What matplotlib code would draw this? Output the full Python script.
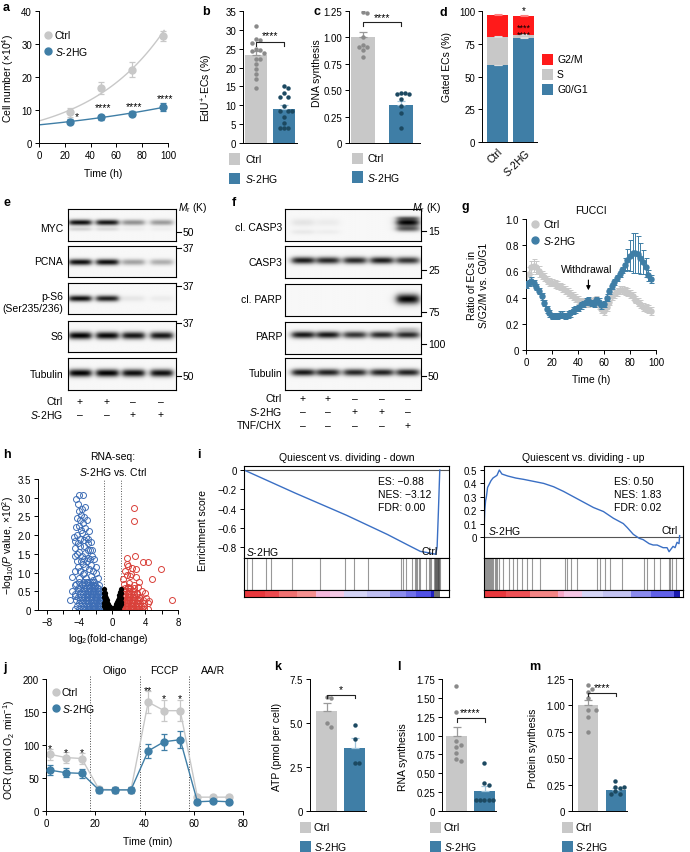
import numpy as np
import matplotlib
matplotlib.use('Agg')
import matplotlib.pyplot as plt
from matplotlib.lines import Line2D
from matplotlib.patches import Rectangle

plt.rcParams['font.family'] = ['Liberation Sans', 'DejaVu Sans']
plt.rcParams['mathtext.fontset'] = 'custom'
plt.rcParams['mathtext.rm'] = 'Liberation Sans'
plt.rcParams['mathtext.it'] = 'Liberation Sans:italic'
plt.rcParams['mathtext.bf'] = 'Liberation Sans:bold'
plt.rcParams['font.size'] = 7
plt.rcParams['axes.linewidth'] = 0.7
plt.rcParams['xtick.major.size'] = 3
plt.rcParams['ytick.major.size'] = 3
plt.rcParams['xtick.major.width'] = 0.7
plt.rcParams['ytick.major.width'] = 0.7
plt.rcParams['xtick.labelsize'] = 7
plt.rcParams['ytick.labelsize'] = 7
plt.rcParams['xtick.major.pad'] = 2
plt.rcParams['ytick.major.pad'] = 2

# ---------------- DATA ----------------
S2 = r'$\it{S}$-2HG'
# a: growth curve
a_time = [24, 48, 72, 96]
a_ctrl = [9.3, 16.8, 22.2, 32.5]
a_ctrl_err = [1.3, 1.8, 2.2, 1.5]
a_s2hg = [6.5, 7.8, 8.9, 10.9]
a_s2hg_err = [0.8, 0.8, 0.8, 1.2]
a_stars = ['*', '****', '****', '****']
a_star_y = [8.3, 10.8, 11.1, 13.6]
# b: EdU+ ECs
b_means = [23.3, 9.1]
b_sems = [1.1, 1.0]
b_ctrl_pts = [31.1, 27.5, 27.3, 26.4, 24.9, 24.7, 24.5, 23.8, 22.4, 22.2, 21.0, 19.6, 18.2, 16.9, 14.5]
b_s2hg_pts = [15.0, 14.5, 13.2, 12.3, 12.3, 9.7, 8.6, 8.6, 8.6, 6.8, 5.3, 3.9, 3.9, 3.9]
# c: DNA synthesis
c_means = [1.0, 0.36]
c_sems = [0.05, 0.04]
c_ctrl_pts = [1.24, 1.23, 1.0, 0.93, 0.91, 0.91, 0.88, 0.81]
c_s2hg_pts = [0.47, 0.47, 0.46, 0.46, 0.42, 0.35, 0.28, 0.14]
# d: cell cycle
d_phases = ['G0/G1', 'S', 'G2/M']
d_ctrl = [58.5, 22.0, 16.5]
d_s2hg = [79.5, 2.5, 14.5]
# e / f: western blot band intensities
e_lanes_ctrl = ['+', '+', '\u2013', '\u2013']
e_lanes_s2hg = ['\u2013', '\u2013', '+', '+']
e_rows = ['MYC', 'PCNA', 'p-S6\n(Ser235/236)', 'S6', 'Tubulin']
e_myc = [0.95, 0.92, 0.42, 0.38]
e_myc_low = [0.15, 0.12, 0.04, 0.04]
e_pcna = [0.95, 0.95, 0.35, 0.3]
e_ps6 = [0.95, 0.88, 0.07, 0.05]
e_s6 = [1.0, 0.98, 0.92, 0.92]
e_tub = [1.0, 1.0, 0.95, 0.95]
e_mw = ['50', '37', '37', '37', '50']
f_rows = ['cl. CASP3', 'CASP3', 'cl. PARP', 'PARP', 'Tubulin']
f_lanes_ctrl = ['+', '+', '\u2013', '\u2013', '\u2013']
f_lanes_s2hg = ['\u2013', '\u2013', '+', '+', '\u2013']
f_lanes_tnf = ['\u2013', '\u2013', '\u2013', '\u2013', '+']
f_clcasp3 = [0.08, 0.05, 0.0, 0.0, 1.0]
f_casp3 = [0.9, 0.85, 0.85, 0.9, 0.8]
f_clparp = [0.0, 0.0, 0.0, 0.0, 1.0]
f_parp = [0.92, 0.92, 0.8, 0.85, 0.85]
f_tub = [0.92, 0.88, 0.86, 0.88, 0.88]
f_mw = ['15', '25', '75', '100', '50']
# g: FUCCI
g_time = list(range(0, 97, 2))
g_ctrl = [0.50, 0.58, 0.63, 0.645, 0.63, 0.60, 0.57, 0.555, 0.535, 0.52, 0.515, 0.505, 0.495,
          0.485, 0.475, 0.46, 0.445, 0.43, 0.415, 0.395, 0.38, 0.37, 0.36, 0.355, 0.36, 0.37,
          0.375, 0.38, 0.34, 0.31, 0.30, 0.33, 0.37, 0.41, 0.43, 0.44, 0.455, 0.455, 0.45, 0.44,
          0.43, 0.41, 0.385, 0.365, 0.35, 0.33, 0.32, 0.31, 0.30]
g_ctrl_err = [0.03, 0.05, 0.05, 0.05, 0.05, 0.04, 0.03, 0.03, 0.03, 0.03, 0.03, 0.03, 0.03,
              0.03, 0.03, 0.03, 0.03, 0.03, 0.03, 0.03, 0.03, 0.03, 0.03, 0.03, 0.03, 0.03,
              0.03, 0.03, 0.03, 0.03, 0.03, 0.03, 0.03, 0.03, 0.03, 0.03, 0.03, 0.03, 0.03, 0.03,
              0.03, 0.03, 0.03, 0.03, 0.03, 0.03, 0.03, 0.03, 0.03]
g_s2hg = [0.50, 0.51, 0.53, 0.51, 0.48, 0.45, 0.41, 0.36, 0.31, 0.28, 0.26, 0.26, 0.26,
          0.27, 0.27, 0.26, 0.27, 0.28, 0.30, 0.31, 0.32, 0.34, 0.35, 0.37, 0.38, 0.36,
          0.35, 0.38, 0.37, 0.34, 0.35, 0.40, 0.45, 0.49, 0.52, 0.55, 0.58, 0.61, 0.65, 0.69,
          0.72, 0.74, 0.74, 0.73, 0.70, 0.67, 0.63, 0.57, 0.54]
g_s2hg_err = [0.025] * 38 + [0.05, 0.08, 0.12, 0.15, 0.15, 0.14, 0.12, 0.09, 0.07, 0.04, 0.03]
# h: volcano
h_down_x = [-4.4, -4.2, -4.0, -3.55, -3.75, -3.45, -4.3, -3.95, -3.6, -4.1, -4.45, -3.8, -3.3, -4.62,
            -4.5, -3.2, -2.95, -2.6, -2.75, -3.5, -3.9, -4.05, -4.3, -4.6, -3.7, -3.35, -2.9, -2.5,
            -2.2, -3.1, -3.6, -4.2, -4.5, -4.85, -3.9, -3.4, -2.8, -2.4, -2.0, -2.6, -3.2, -4.0,
            -4.4, -5.2, -4.95, -4.6, -3.85, -3.65, -4.25, -3.1, -2.85, -3.4, -4.15, -3.0, -3.8,
            -2.6, -3.3, -4.35, -3.55, -2.3, -1.8, -2.9, -3.7, -4.2, -1.6, -2.1, -3.45, -4.1, -3.3,
            -2.45, -1.95, -2.7, -3.95, -4.5, -3.0,
            -4.6, -4.0, -3.6, -3.3, -3.0, -2.7, -2.4, -2.1, -1.8, -1.5, -1.25,
            -4.3, -3.8, -3.45, -3.1, -2.8, -2.5, -2.2, -1.9, -1.6, -1.35, -1.15,
            -4.1, -3.7, -3.35, -3.0, -2.65, -2.35, -2.05, -1.75, -1.45, -1.2,
            -4.4, -3.9, -3.55, -3.2, -2.9, -2.55, -2.25, -1.95, -1.65, -1.35, -1.15,
            -4.2, -3.75, -3.4, -3.05, -2.75, -2.45, -2.15, -1.85, -1.55, -1.3,
            -4.5, -3.95, -3.6, -3.25, -2.9, -2.6, -2.3, -2.0, -1.7, -1.45,
            -4.15, -3.7, -3.35, -3.0, -2.7, -2.4, -2.1, -1.8, -1.55,
            -3.9, -3.5, -3.15, -2.85, -2.5, -2.2, -1.9, -1.7,
            -4.6, -3.75, -3.3, -2.95, -2.6, -2.3, -2.05,
            -4.1, -3.5, -3.1, -2.75, -2.45, -2.2]
h_down_y = [2.96, 2.83, 3.07, 3.07, 2.70, 2.48, 2.45, 2.40, 2.32, 2.25, 2.22, 2.15, 2.20, 1.95,
            1.85, 1.95, 1.78, 1.82, 1.60, 1.86, 1.72, 1.56, 1.50, 1.45, 1.45, 1.52, 1.40, 1.45,
            1.35, 1.30, 1.22, 1.15, 1.05, 0.87, 1.05, 1.00, 1.10, 1.05, 1.00, 0.90, 0.85, 0.85,
            0.70, 0.26, 0.52, 0.38, 2.55, 2.05, 2.00, 2.40, 2.10, 1.70, 1.80, 1.60, 1.30,
            1.20, 1.15, 1.30, 0.95, 0.80, 0.85, 0.75, 0.70, 0.60, 0.68, 0.65, 1.35, 2.65, 2.75,
            1.60, 1.15, 1.35, 1.90, 1.65, 1.90,
            0.04, 0.04, 0.04, 0.04, 0.04, 0.04, 0.04, 0.04, 0.04, 0.04, 0.04,
            0.11, 0.11, 0.11, 0.11, 0.11, 0.11, 0.11, 0.11, 0.11, 0.11, 0.11,
            0.18, 0.18, 0.18, 0.18, 0.18, 0.18, 0.18, 0.18, 0.18, 0.18,
            0.26, 0.26, 0.26, 0.26, 0.26, 0.26, 0.26, 0.26, 0.26, 0.26, 0.26,
            0.34, 0.34, 0.34, 0.34, 0.34, 0.34, 0.34, 0.34, 0.34, 0.34,
            0.42, 0.42, 0.42, 0.42, 0.42, 0.42, 0.42, 0.42, 0.42, 0.42,
            0.50, 0.50, 0.50, 0.50, 0.50, 0.50, 0.50, 0.50, 0.50,
            0.58, 0.58, 0.58, 0.58, 0.58, 0.58, 0.58, 0.58,
            0.66, 0.66, 0.66, 0.66, 0.66, 0.66, 0.66,
            0.75, 0.75, 0.75, 0.75, 0.75, 0.75]
h_ns_x = [-1.0, -0.9, -0.8, -0.7, -0.6, -0.5, -0.4, -0.3, -0.2, -0.1, 0.0, 0.1, 0.2, 0.3, 0.4, 0.5,
          0.6, 0.7, 0.8, 0.9, 1.0, -0.95, -0.85, -0.75, -0.65, -0.9, -0.55, -0.45, 0.45, 0.55,
          0.65, 0.75, 0.85, 0.95, 0.9, -1.0, 1.0, -0.35, 0.35, -0.8, 0.8,
          -1.05, -1.0, -0.95, -0.9, -0.85, -0.8, -0.7, 0.7, 0.8, 0.85, 0.9, 0.95, 1.0, 1.05,
          -1.05, 1.05, -0.6, 0.6, -0.25, 0.25]
h_ns_y = [0.45, 0.38, 0.32, 0.26, 0.20, 0.15, 0.10, 0.07, 0.04, 0.02, 0.01, 0.02, 0.05, 0.08, 0.12,
          0.16, 0.21, 0.27, 0.33, 0.40, 0.46, 0.25, 0.15, 0.08, 0.12, 0.05, 0.05, 0.03, 0.04, 0.08,
          0.10, 0.15, 0.22, 0.30, 0.10, 0.12, 0.15, 0.02, 0.02, 0.02, 0.04,
          0.55, 0.35, 0.45, 0.3, 0.38, 0.22, 0.16, 0.18, 0.24, 0.4, 0.28, 0.48, 0.32, 0.56,
          0.2, 0.22, 0.1, 0.12, 0.05, 0.05]
h_up_x = [2.59, 2.67, 2.75, 1.82, 1.74, 1.9, 2.34, 3.68, 4.36, 5.98, 4.89, 7.27, 4.48, 4.16, 3.43,
          2.83, 2.59, 1.74, 2.14, 1.33, 1.6, 2.0, 3.1, 3.6, 2.3, 1.9, 1.45, 2.9, 3.3, 4.0, 3.0,
          1.2, 1.5, 1.8, 2.1, 2.4, 2.7, 3.0, 3.3, 3.6, 3.9, 4.3,
          1.1, 1.35, 1.65, 1.95, 2.25, 2.55, 2.85, 3.15, 3.5, 3.85,
          1.2, 1.5, 1.8, 2.1, 2.4, 2.7, 3.0, 3.4, 3.8, 4.4,
          1.15, 1.45, 1.75, 2.05, 2.35, 2.65, 2.95, 3.3, 3.7,
          1.25, 1.55, 1.85, 2.15, 2.5, 2.8, 3.2,
          1.3, 1.6, 1.9, 2.25, 2.6, 3.0,
          1.4, 1.7, 2.0, 2.35, 2.7,
          1.5, 1.85, 2.2, 2.6]
h_up_y = [2.73, 2.38, 1.43, 1.40, 1.22, 1.18, 1.13, 1.27, 1.27, 1.09, 0.82, 0.27, 0.24, 0.33, 0.33,
          0.87, 0.66, 0.93, 0.91, 0.82, 1.05, 0.72, 0.62, 0.50, 0.95, 0.62, 0.70, 1.10, 0.75, 0.45, 0.45,
          0.04, 0.04, 0.04, 0.04, 0.04, 0.04, 0.04, 0.04, 0.04, 0.04, 0.04,
          0.11, 0.11, 0.11, 0.11, 0.11, 0.11, 0.11, 0.11, 0.11, 0.11,
          0.18, 0.18, 0.18, 0.18, 0.18, 0.18, 0.18, 0.18, 0.18, 0.18,
          0.26, 0.26, 0.26, 0.26, 0.26, 0.26, 0.26, 0.26, 0.26,
          0.34, 0.34, 0.34, 0.34, 0.34, 0.34, 0.34,
          0.42, 0.42, 0.42, 0.42, 0.42, 0.42,
          0.50, 0.50, 0.50, 0.50, 0.50,
          0.58, 0.58, 0.58, 0.58]
# i: GSEA
i_down_rank = [0, 0.25, 0.5, 0.7, 0.8, 0.86, 0.9, 0.935, 0.942, 0.948, 0.955]
i_down_es = [0, -0.24, -0.47, -0.67, -0.78, -0.845, -0.86, -0.875, -0.80, -0.45, 0.0]
i_down_hits = [0.016, 0.037, 0.107, 0.13, 0.232, 0.373, 0.492, 0.536, 0.606, 0.765, 0.776, 0.792,
               0.82, 0.833, 0.838, 0.846, 0.852, 0.86, 0.89, 0.90, 0.906, 0.914, 0.925, 0.930,
               0.933, 0.936, 0.938, 0.940, 0.942, 0.944, 0.946, 0.948, 0.950, 0.952, 0.954]
i_up_rank = [0, 0.004, 0.008, 0.012, 0.018, 0.025, 0.035, 0.045, 0.055, 0.065, 0.077, 0.09, 0.12,
             0.16, 0.2, 0.25, 0.3, 0.35, 0.4, 0.45, 0.5, 0.55, 0.6, 0.65, 0.7, 0.72, 0.75, 0.78,
             0.8, 0.83, 0.85, 0.87, 0.9, 0.92, 0.93, 0.95, 0.96, 0.97, 0.98, 0.983]
i_up_es = [0.05, 0.2, 0.27, 0.3, 0.37, 0.39, 0.42, 0.44, 0.45, 0.46, 0.50, 0.47, 0.455, 0.44, 0.43,
           0.415, 0.40, 0.375, 0.34, 0.30, 0.26, 0.22, 0.19, 0.14, 0.10, 0.07, 0.02, -0.01, -0.02,
           -0.05, -0.06, -0.06, -0.08, -0.08, -0.11, -0.07, -0.08, -0.04, -0.05, 0.01]
i_up_hits = [0.005, 0.01, 0.015, 0.02, 0.025, 0.03, 0.035, 0.04, 0.047, 0.055, 0.06, 0.065, 0.077,
             0.097, 0.128, 0.148, 0.168, 0.19, 0.215, 0.24, 0.282, 0.408, 0.419, 0.436, 0.466, 0.57,
             0.584, 0.609, 0.634, 0.693, 0.802, 0.819, 0.852, 0.886, 0.928, 0.936, 0.945, 0.966]
i_down_stats = ['ES: \u22120.88', 'NES: \u22123.12', 'FDR: 0.00']
i_up_stats = ['ES: 0.50', 'NES: 1.83', 'FDR: 0.02']
# j: OCR
j_time = [1.5, 8, 14.5, 21.5, 28, 34.5, 41.5, 48, 54.5, 61.5, 68, 74.5]
j_ctrl = [86, 81, 79.5, 33, 32, 32, 165, 152, 152, 21, 21, 21]
j_ctrl_err = [8, 8, 8, 4, 4, 4, 17, 16, 16, 3, 3, 3]
j_s2hg = [62, 58, 57, 32, 32, 32, 91, 105, 108, 14, 15, 14]
j_s2hg_err = [7, 7, 7, 4, 4, 4, 10, 12, 13, 2, 2, 2]
j_inject_t = [18, 38, 58]
j_inject = ['Oligo', 'FCCP', 'AA/R']
j_stars = ['*', '*', '*', '**', '*', '*']
j_star_t = [1.5, 8, 14.5, 41.5, 48, 54.5]
j_star_y = [99, 94, 93, 187, 175, 175]
# k: ATP
k_means = [5.7, 3.6]
k_sems = [0.45, 0.55]
k_ctrl_pts = [6.5, 6.4, 5.0, 4.8]
k_s2hg_pts = [4.9, 4.1, 2.7, 2.7]
# l: RNA synthesis
l_means = [1.0, 0.27]
l_sems = [0.12, 0.06]
l_ctrl_pts = [1.66, 1.31, 0.93, 0.88, 0.85, 0.77, 0.69, 0.66]
l_s2hg_pts = [0.63, 0.37, 0.34, 0.15, 0.15, 0.15, 0.15, 0.15]
# m: protein synthesis
m_means = [1.0, 0.2]
m_sems = [0.05, 0.02]
m_ctrl_pts = [1.19, 1.16, 1.13, 1.07, 0.96, 0.96, 0.89, 0.75]
m_s2hg_pts = [0.28, 0.23, 0.23, 0.22, 0.19, 0.16, 0.16]

# ---------------- STYLE ----------------
GRAY = '#c8c8c8'
GRAYPT = '#8a8a8a'
BLUE = '#3f7ea6'
BLUEPT = '#1c4961'
BLUEERR = '#a3c6dc'
RED = '#ff1a1a'
VBLUE = '#3d6db5'
VRED = '#d9403a'
ESBLUE = '#3a6fc4'

W, H = 690, 853
fig = plt.figure(figsize=(W / 100, H / 100), dpi=100)


def axp(x0, y0, x1, y1):
    return fig.add_axes([x0 / W, 1 - y1 / H, (x1 - x0) / W, (y1 - y0) / H])


def ftext(x, y, s, **kw):
    kw.setdefault('fontsize', 7)
    return fig.text(x / W, 1 - y / H, s, **kw)


def fmarker(x, y, color, ms=5):
    fig.add_artist(Line2D([x / W], [1 - y / H], marker='o', color=color, ms=ms,
                          transform=fig.transFigure, ls='none'))


def fsquare(x0, y0, x1, y1, color):
    fig.add_artist(Rectangle((x0 / W, 1 - y1 / H), (x1 - x0) / W, (y1 - y0) / H,
                             transform=fig.transFigure, color=color, lw=0))


def plabel(x, y, s):
    ftext(x, y, s, fontsize=9, fontweight='bold', va='center', ha='left')


def style(ax):
    ax.spines['top'].set_visible(False)
    ax.spines['right'].set_visible(False)
    ax.tick_params(direction='out', length=3, width=0.7, pad=2)


def swarm(ax, xc, vals, d=4.4):
    tr = ax.transData
    placed, xs = [], []
    for v in vals:
        px, py = tr.transform((xc, v))
        cx = px
        for k in [0, 1, -1, 2, -2, 3, -3, 4, -4, 5, -5]:
            cx = px + k * d * 0.95
            if all((cx - qx) ** 2 + (py - qy) ** 2 >= (d * 0.95) ** 2 for qx, qy in placed):
                break
        placed.append((cx, py))
        xs.append(tr.inverted().transform((cx, py))[0])
    return xs


def bar_axes(axl, c0, c1, axr, y0, y1, ylim):
    ax = axp(axl, y0, axr, y1)
    ax.set_xlim((axl - c0) / (c1 - c0), (axr - c0) / (c1 - c0))
    ax.set_ylim(*ylim)
    style(ax)
    ax.set_xticks([])
    return ax


def bar_panel(ax, means, sems, ctrl_pts, s_pts, bw):
    ax.bar([0, 1], means, bw, color=[GRAY, BLUE], zorder=1)
    ax.errorbar([0], [means[0]], yerr=[[0], [sems[0]]], color='#9a9a9a', capsize=3,
                elinewidth=0.9, capthick=0.9, zorder=2, fmt='none')
    ax.errorbar([1], [means[1]], yerr=[[0], [sems[1]]], color=BLUEERR, capsize=3,
                elinewidth=0.9, capthick=0.9, zorder=2, fmt='none')
    ax.plot(swarm(ax, 0, ctrl_pts), ctrl_pts, 'o', color=GRAYPT, ms=3.2, zorder=3, mew=0)
    ax.plot(swarm(ax, 1, s_pts), s_pts, 'o', color=BLUEPT, ms=3.2, zorder=3, mew=0)


def bracket(ax, y, stars, h, ty):
    ax.plot([0, 0, 1, 1], [y - h, y, y, y - h], color='#222222', lw=0.8, clip_on=False, zorder=4)
    ax.text(0.5, ty, stars, ha='center', va='center', fontsize=7.5, zorder=5)


def sq_legend(x, yc, yc2, lx):
    fsquare(x, yc - 5.5, x + 11, yc + 5.5, GRAY)
    fsquare(x, yc2 - 5.5, x + 11, yc2 + 5.5, BLUE)
    ftext(lx, yc, 'Ctrl', va='center', ha='left', fontsize=7.5)
    ftext(lx, yc2, S2, va='center', ha='left', fontsize=7.5)


# ---------------- a ----------------
ax = axp(39, 12, 168, 144)
style(ax)
ax.set_xlim(0, 100)
ax.set_ylim(0, 40)
ax.set_xticks([0, 20, 40, 60, 80, 100])
ax.set_yticks([0, 10, 20, 30, 40])
tt = np.array(a_time, float)
for vals, errs, col, tend in [(a_ctrl, a_ctrl_err, GRAY, 97), (a_s2hg, a_s2hg_err, BLUE, 98)]:
    k, b0 = np.polyfit(tt, np.log(vals), 1)
    tf = np.linspace(0, tend, 100)
    ax.plot(tf, np.exp(b0 + k * tf), color=col, lw=1.0, zorder=1)
    ax.errorbar(tt, vals, yerr=errs, fmt='o', color=col, ms=5, capsize=2.5, elinewidth=0.9,
                capthick=0.9, zorder=2)
for t, s, y in zip(a_time, a_stars, a_star_y):
    ax.text(t + (5 if s == '*' else 2), y, s, ha='center', va='center', fontsize=7.5)
fmarker(48.3, 36, GRAY)
fmarker(48.3, 51.7, BLUE)
ftext(55, 36, 'Ctrl', va='center', fontsize=7.5)
ftext(55, 51.7, S2, va='center', fontsize=7.5)
ftext(8, 78, r'Cell number ($\times$10$^4$)', rotation=90, ha='center', va='center', fontsize=7.5)
ftext(103.5, 174, 'Time (h)', ha='center', va='center', fontsize=7.5)
plabel(3, 8, 'a')

# ---------------- b ----------------
ax = bar_axes(243, 256, 284, 297, 12, 144, (0, 35))
ax.set_yticks(range(0, 36, 5))
bar_panel(ax, b_means, b_sems, b_ctrl_pts, b_s2hg_pts, 22 / 28)
bracket(ax, 26.8, '****', 1.0, 28.6)
ftext(207, 88, r'EdU$^{+}$-ECs (%)', rotation=90, ha='center', va='center', fontsize=7.5)
sq_legend(229, 160, 179, 245)
plabel(202, 12, 'b')

# ---------------- c ----------------
ax = bar_axes(349, 363, 401, 420, 12, 144, (0, 1.25))
ax.set_yticks([0, 0.25, 0.5, 0.75, 1.0, 1.25])
ax.set_yticklabels(['0', '0.25', '0.50', '0.75', '1.00', '1.25'])
bar_panel(ax, c_means, c_sems, c_ctrl_pts, c_s2hg_pts, 24 / 38)
bracket(ax, 1.145, '****', 0.04, 1.19)
ftext(317, 73, 'DNA synthesis', rotation=90, ha='center', va='center', fontsize=7.5)
sq_legend(352, 159, 178, 367)
plabel(313, 12, 'c')

# ---------------- d ----------------
ax = bar_axes(482, 497.5, 523.5, 537, 12, 143, (0, 100))
ax.set_yticks([0, 25, 50, 75, 100])
d_cols = [BLUE, GRAY, RED]
bottoms = [0, 0]
for i_ph in range(3):
    vals = [d_ctrl[i_ph], d_s2hg[i_ph]]
    ax.bar([0, 1], vals, 21 / 26, bottom=bottoms, color=d_cols[i_ph], zorder=1)
    tops = [bottoms[0] + vals[0], bottoms[1] + vals[1]]
    ax.errorbar([0, 1], tops, yerr=[[0, 0], [0.6, 0.6]], fmt='none', color='#dddddd' if i_ph < 2 else '#ff8080',
                capsize=3, elinewidth=0.8, capthick=0.8, zorder=2)
    bottoms = tops
ax.set_xticks([0, 1])
ax.set_xticklabels(['Ctrl', S2], rotation=45, ha='right', rotation_mode='anchor', fontsize=7.5)
ax.tick_params(axis='x', length=0, pad=3)
ax.text(1, 100.5, '*', ha='center', va='center', fontsize=7)
ax.text(1, 87.6, '****', ha='center', va='center', fontsize=6.5)
ax.text(1, 82.0, '****', ha='center', va='center', fontsize=6.5)
ftext(447, 67, 'Gated ECs (%)', rotation=90, ha='center', va='center', fontsize=7.5)
for col, lab, yc in [(RED, 'G2/M', 60), (GRAY, 'S', 75), (BLUE, 'G0/G1', 90)]:
    fsquare(542, yc - 5.5, 553, yc + 5.5, col)
    ftext(557, yc, lab, va='center', fontsize=7.5)
plabel(440, 13, 'd')


# ---------------- blots ----------------
def blot(x0, y0, x1, y1, lane_x, bands, lane_w):
    ax = axp(x0, y0, x1, y1)
    ny, nx = 80, 300
    yy = np.linspace(0, 1, ny)[:, None]
    xx = np.linspace(0, 1, nx)[None, :]
    img = np.zeros((ny, nx))
    for yc, sig, ints in bands:
        for lx, v in zip(lane_x, ints):
            px = 1 / (1 + np.exp(-(xx - (lx - lane_w / 2)) / 0.015)) * \
                1 / (1 + np.exp((xx - (lx + lane_w / 2)) / 0.015))
            py = np.exp(-((yy - yc) / sig) ** 2)
            img += v * px * py
    ax.imshow(np.clip(img, 0, 1), cmap='gray_r', vmin=-0.03, vmax=1.0, extent=(0, 1, 1, 0),
              aspect='auto', interpolation='bilinear')
    ax.set_xlim(0, 1)
    ax.set_ylim(1, 0)
    ax.set_xticks([])
    ax.set_yticks([])
    for sp in ax.spines.values():
        sp.set_linewidth(0.8)
    return ax


def mw_mark(x, y, s):
    fig.add_artist(Line2D([x / W, (x + 4) / W], [1 - y / H, 1 - y / H], color='k', lw=0.8,
                          transform=fig.transFigure))
    ftext(x + 6, y, s, va='center', ha='left', fontsize=7.5)


# e
e_box_x = (68, 176)
e_lane = [(v - 68) / 108 for v in (80, 107, 133, 161)]
e_boxes = [(210, 242), (247, 278), (284, 315), (322, 353), (359, 391)]
e_bands = [
    [(0.42, 0.09, e_myc), (0.63, 0.06, e_myc_low)],
    [(0.52, 0.1, e_pcna)],
    [(0.50, 0.1, e_ps6)],
    [(0.47, 0.12, e_s6)],
    [(0.47, 0.12, e_tub)],
]
e_label_y = [229, 262, 303, 337, 375]
for (yy0, yy1), bands, lab, ly in zip(e_boxes, e_bands, e_rows, e_label_y):
    blot(e_box_x[0], yy0, e_box_x[1], yy1, e_lane, bands, 0.2)
    ftext(63, ly, lab, ha='right', va='center', fontsize=7.5, linespacing=1.2)
ftext(178, 208, r'$\it{M}_{\rm r}$ (K)', ha='left', va='center', fontsize=7.5)
for y, s in zip([233, 249, 287, 324, 377], e_mw):
    mw_mark(177, y, s)
for lx, p1, p2 in zip((80, 107, 133, 161), e_lanes_ctrl, e_lanes_s2hg):
    ftext(lx, 402, p1, ha='center', va='center', fontsize=7.5)
    ftext(lx, 415, p2, ha='center', va='center', fontsize=7.5)
ftext(63, 402, 'Ctrl', ha='right', va='center', fontsize=7.5)
ftext(63, 415, S2, ha='right', va='center', fontsize=7.5)
plabel(3, 203, 'e')

# f
f_box_x = (285, 421)
f_lx = (303, 328, 355, 382, 408)
f_lane = [(v - 285) / 136 for v in f_lx]
f_boxes = [(210, 242), (247, 279), (285, 317), (323, 355), (359, 391)]
f_bands = [
    [(0.42, 0.12, f_clcasp3), (0.62, 0.09, [0, 0, 0, 0, 0.6]), (0.28, 0.06, [0, 0, 0, 0, 0.4]),
     (0.72, 0.08, [0.06, 0.04, 0, 0, 0])],
    [(0.45, 0.11, f_casp3)],
    [(0.47, 0.16, f_clparp)],
    [(0.40, 0.11, f_parp), (0.22, 0.07, [0, 0, 0, 0, 0.18])],
    [(0.45, 0.11, f_tub)],
]
f_label_y = [228, 263, 300, 337, 374]
for (yy0, yy1), bands, lab, ly in zip(f_boxes, f_bands, f_rows, f_label_y):
    blot(f_box_x[0], yy0, f_box_x[1], yy1, f_lane, bands, 0.16)
    ftext(282, ly, lab, ha='right', va='center', fontsize=7.5)
ftext(412, 208, r'$\it{M}_{\rm r}$ (K)', ha='left', va='center', fontsize=7.5)
for y, s in zip([232, 271, 313, 345, 377], f_mw):
    mw_mark(422, y, s)
for lx, p1, p2, p3 in zip(f_lx, f_lanes_ctrl, f_lanes_s2hg, f_lanes_tnf):
    ftext(lx, 399, p1, ha='center', va='center', fontsize=7.5)
    ftext(lx, 412, p2, ha='center', va='center', fontsize=7.5)
    ftext(lx, 426, p3, ha='center', va='center', fontsize=7.5)
ftext(282, 399, 'Ctrl', ha='right', va='center', fontsize=7.5)
ftext(282, 412, S2, ha='right', va='center', fontsize=7.5)
ftext(282, 426, 'TNF/CHX', ha='right', va='center', fontsize=7.5)
plabel(232, 203, 'f')

# ---------------- g ----------------
ax = axp(526, 220, 656, 351)
style(ax)
ax.set_xlim(0, 100)
ax.set_ylim(0, 1.0)
ax.set_xticks([0, 20, 40, 60, 80, 100])
ax.set_yticks([0, 0.2, 0.4, 0.6, 0.8, 1.0])
ax.set_yticklabels(['0', '0.2', '0.4', '0.6', '0.8', '1.0'])
ax.errorbar(g_time, g_ctrl, yerr=g_ctrl_err, fmt='o-', color=GRAY, ms=3.6, lw=0.8,
            capsize=1.8, elinewidth=0.7, capthick=0.7, zorder=2)
ax.errorbar(g_time, g_s2hg, yerr=g_s2hg_err, fmt='o-', color=BLUE, ms=3.6, lw=0.8,
            capsize=1.8, elinewidth=0.7, capthick=0.7, zorder=3)
ax.annotate('', xy=(48, 0.435), xytext=(48, 0.555),
            arrowprops=dict(arrowstyle='-|>', color='k', lw=0.8, mutation_scale=6))
ax.text(47, 0.62, 'Withdrawal', ha='center', va='center', fontsize=7.5)
ax.text(50, 1.07, 'FUCCI', ha='center', va='center', fontsize=7.5)
fmarker(535, 225, GRAY)
fmarker(535, 241, BLUE)
ftext(543, 225, 'Ctrl', va='center', fontsize=7.5)
ftext(543, 241, S2, va='center', fontsize=7.5)
ftext(478, 285, 'Ratio of ECs in\nS/G2/M vs. G0/G1', rotation=90, ha='center', va='center',
      fontsize=7.5, linespacing=1.15)
ftext(591, 380, 'Time (h)', ha='center', va='center', fontsize=7.5)
plabel(461, 207, 'g')

# ---------------- h ----------------
ax = axp(38, 480, 178, 611)
style(ax)
ax.set_xlim(-9.05, 8)
ax.set_ylim(0, 3.5)
ax.set_xticks([-8, -4, 0, 4, 8])
ax.set_xticks([-6, -2, 2, 6], minor=True)
ax.tick_params(axis='x', which='minor', length=3, width=0.7)
ax.set_yticks([0, 0.5, 1.0, 1.5, 2.0, 2.5, 3.0, 3.5])
ax.set_yticklabels(['0', '0.5', '1.0', '1.5', '2.0', '2.5', '3.0', '3.5'])
ax.plot(h_down_x, h_down_y, 'o', mfc='none', mec=VBLUE, ms=4.3, mew=0.7, zorder=2)
ax.plot(h_up_x, h_up_y, 'o', mfc='none', mec=VRED, ms=4.3, mew=0.7, zorder=2)
ax.plot(h_ns_x, h_ns_y, 'o', color='k', ms=3.8, mew=0, zorder=3)
for xv in (-1, 1):
    ax.axvline(xv, ls=':', color='#555555', lw=0.7, zorder=1)
ftext(113, 457, 'RNA-seq:', ha='center', va='center', fontsize=7.5)
ftext(113, 472, S2 + ' vs. Ctrl', ha='center', va='center', fontsize=7.5)
ftext(8, 545, r'$-$log$_{10}$($\it{P}$ value, $\times$10$^2$)', rotation=90, ha='center',
      va='center', fontsize=7.5)
ftext(108, 639, r'log$_2$(fold-change)', ha='center', va='center', fontsize=7.5)
plabel(3, 455, 'h')


# ---------------- i ----------------
def gsea(x0, x1, ylim, yticks, ylabels, rank, es, hits, stats, segs, s2pos, ctrlpos, ctrl_ha):
    ax = axp(x0, 467, x1, 559)
    ax.set_xlim(0, 1)
    ax.set_ylim(*ylim)
    ax.set_xticks([])
    ax.set_yticks(yticks)
    ax.set_yticklabels(ylabels)
    ax.tick_params(axis='y', direction='out', length=3, width=0.7, pad=2)
    ax.axhline(0, color='#555555', lw=0.8)
    ax.plot(rank, es, color=ESBLUE, lw=1.0)
    for k, s in enumerate(stats):
        ax.text(0.655, 0.84 - k * 0.145, s, transform=ax.transAxes, ha='left', va='center',
                fontsize=7.5)
    ax.text(s2pos[0], s2pos[1], S2, transform=ax.transAxes, ha='left', va='center', fontsize=7.5)
    ax.text(ctrlpos[0], ctrlpos[1], 'Ctrl', transform=ax.transAxes, ha=ctrl_ha, va='center',
            fontsize=7.5)
    axh = axp(x0, 559, x1, 591)
    axh.set_xlim(0, 1)
    axh.set_ylim(0, 1)
    axh.set_xticks([])
    axh.set_yticks([])
    axh.vlines(hits, 0, 1, color='#444444', lw=0.8, alpha=0.55)
    axc = axp(x0, 591, x1, 598)
    axc.set_xlim(0, 1)
    axc.set_ylim(0, 1)
    axc.set_xticks([])
    axc.set_yticks([])
    for s0, s1, col in segs:
        axc.axvspan(s0, s1, color=col, lw=0)
    for a in (ax, axh, axc):
        for sp in a.spines.values():
            sp.set_linewidth(0.8)
    return ax


i_down_segs = [(0, 0.1, '#e8383d'), (0.1, 0.17, '#ec4a4f'), (0.17, 0.26, '#f07272'),
               (0.26, 0.35, '#f59090'), (0.35, 0.42, '#f4b8dc'), (0.42, 0.49, '#f5cbe6'),
               (0.49, 0.6, '#d4d4f5'), (0.6, 0.71, '#c0c0f2'), (0.71, 0.79, '#8c8cee'),
               (0.79, 0.84, '#7070ea'), (0.84, 0.91, '#5050e5'), (0.91, 0.925, '#2020c0'),
               (0.925, 0.955, '#707070')]
i_up_segs = [(0, 0.11, '#e8383d'), (0.11, 0.23, '#ee5055'), (0.23, 0.37, '#f38585'),
             (0.37, 0.4, '#f6a8c8'), (0.4, 0.49, '#f5c6e4'), (0.49, 0.6, '#d6d6f6'),
             (0.6, 0.74, '#c4c4f2'), (0.74, 0.84, '#8a8aee'), (0.84, 0.955, '#6060e8'),
             (0.955, 0.985, '#1a1ab0')]
ax_l = gsea(244, 449, (-0.914, 0.0416), [0, -0.2, -0.4, -0.6, -0.8],
            ['0', '\u22120.2', '\u22120.4', '\u22120.6', '\u22120.8'], i_down_rank, i_down_es,
            i_down_hits, i_down_stats, i_down_segs, (0.01, 0.08), (0.905, 0.08), 'center')
ax_r = gsea(484, 683, (-0.157, 0.53), [0, 0.1, 0.2, 0.3, 0.4, 0.5],
            ['0', '0.1', '0.2', '0.3', '0.4', '0.5'], i_up_rank, i_up_es, i_up_hits,
            i_up_stats, i_up_segs, (0.02, 0.305), (0.975, 0.305), 'right')
ftext(346.5, 458, 'Quiescent vs. dividing - down', ha='center', va='center', fontsize=7.5)
ftext(583.5, 458, 'Quiescent vs. dividing - up', ha='center', va='center', fontsize=7.5)
ftext(203, 531, 'Enrichment score', rotation=90, ha='center', va='center', fontsize=7.5)
plabel(197, 455, 'i')

# ---------------- j ----------------
ax = axp(46, 680, 243, 812)
style(ax)
ax.set_xlim(0, 80)
ax.set_ylim(0, 200)
ax.set_xticks([0, 20, 40, 60, 80])
ax.set_yticks([0, 50, 100, 150, 200])
ax.errorbar(j_time, j_ctrl, yerr=j_ctrl_err, fmt='o-', color=GRAY, ms=5, lw=1.0, capsize=2.5,
            elinewidth=0.9, capthick=0.9, zorder=2)
ax.errorbar(j_time, j_s2hg, yerr=j_s2hg_err, fmt='o-', color=BLUE, ms=5, lw=1.0, capsize=2.5,
            elinewidth=0.9, capthick=0.9, zorder=3)
for t, lab in zip(j_inject_t, j_inject):
    ax.plot([t, t], [0, 205], ls=':', color='#444444', lw=0.7, clip_on=False, zorder=1)
    ax.text(t + 10, 213, lab, ha='center', va='center', fontsize=7.5, clip_on=False)
for t, s, y in zip(j_star_t, j_stars, j_star_y):
    ax.text(t, y - 4, s, ha='center', va='center', fontsize=7.5)
fmarker(56, 693, GRAY)
fmarker(56, 709, BLUE)
ftext(62, 693, 'Ctrl', va='center', fontsize=7.5)
ftext(62, 709, S2, va='center', fontsize=7.5)
ftext(9, 750, r'OCR (pmol O$_2$ min$^{-1}$)', rotation=90, ha='center', va='center', fontsize=7.5)
ftext(148, 842, 'Time (min)', ha='center', va='center', fontsize=7.5)
plabel(3, 668, 'j')

# ---------------- k ----------------
ax = bar_axes(310, 326.5, 354.5, 366, 680, 812, (0, 7.5))
ax.set_yticks([0, 2.5, 5.0, 7.5])
ax.set_yticklabels(['0', '2.5', '5.0', '7.5'])
bar_panel(ax, k_means, k_sems, k_ctrl_pts, k_s2hg_pts, 21 / 28)
bracket(ax, 6.6, '*', 0.18, 6.95)
ftext(277, 747, 'ATP (pmol per cell)', rotation=90, ha='center', va='center', fontsize=7.5)
sq_legend(300, 828, 847, 314)
plabel(274, 667, 'k')

# ---------------- l ----------------
ax = bar_axes(442, 456.5, 484.5, 496, 680, 812, (0, 1.75))
ax.set_yticks([0, 0.25, 0.5, 0.75, 1.0, 1.25, 1.5, 1.75])
ax.set_yticklabels(['0', '0.25', '0.50', '0.75', '1.00', '1.25', '1.50', '1.75'])
bar_panel(ax, l_means, l_sems, l_ctrl_pts, l_s2hg_pts, 21 / 28)
bracket(ax, 1.23, '*****', 0.05, 1.31)
ftext(403, 757, 'RNA synthesis', rotation=90, ha='center', va='center', fontsize=7.5)
sq_legend(430, 828, 847, 444)
plabel(397, 667, 'l')

# ---------------- m ----------------
ax = bar_axes(572, 588, 615.5, 627, 680, 812, (0, 1.25))
ax.set_yticks([0, 0.25, 0.5, 0.75, 1.0, 1.25])
ax.set_yticklabels(['0', '0.25', '0.50', '0.75', '1.00', '1.25'])
bar_panel(ax, m_means, m_sems, m_ctrl_pts, m_s2hg_pts, 20 / 27.5)
bracket(ax, 1.12, '****', 0.035, 1.175)
ftext(533, 748, 'Protein synthesis', rotation=90, ha='center', va='center', fontsize=7.5)
sq_legend(562, 828, 847, 575)
plabel(529, 667, 'm')

fig.savefig('out.png', dpi=100)
